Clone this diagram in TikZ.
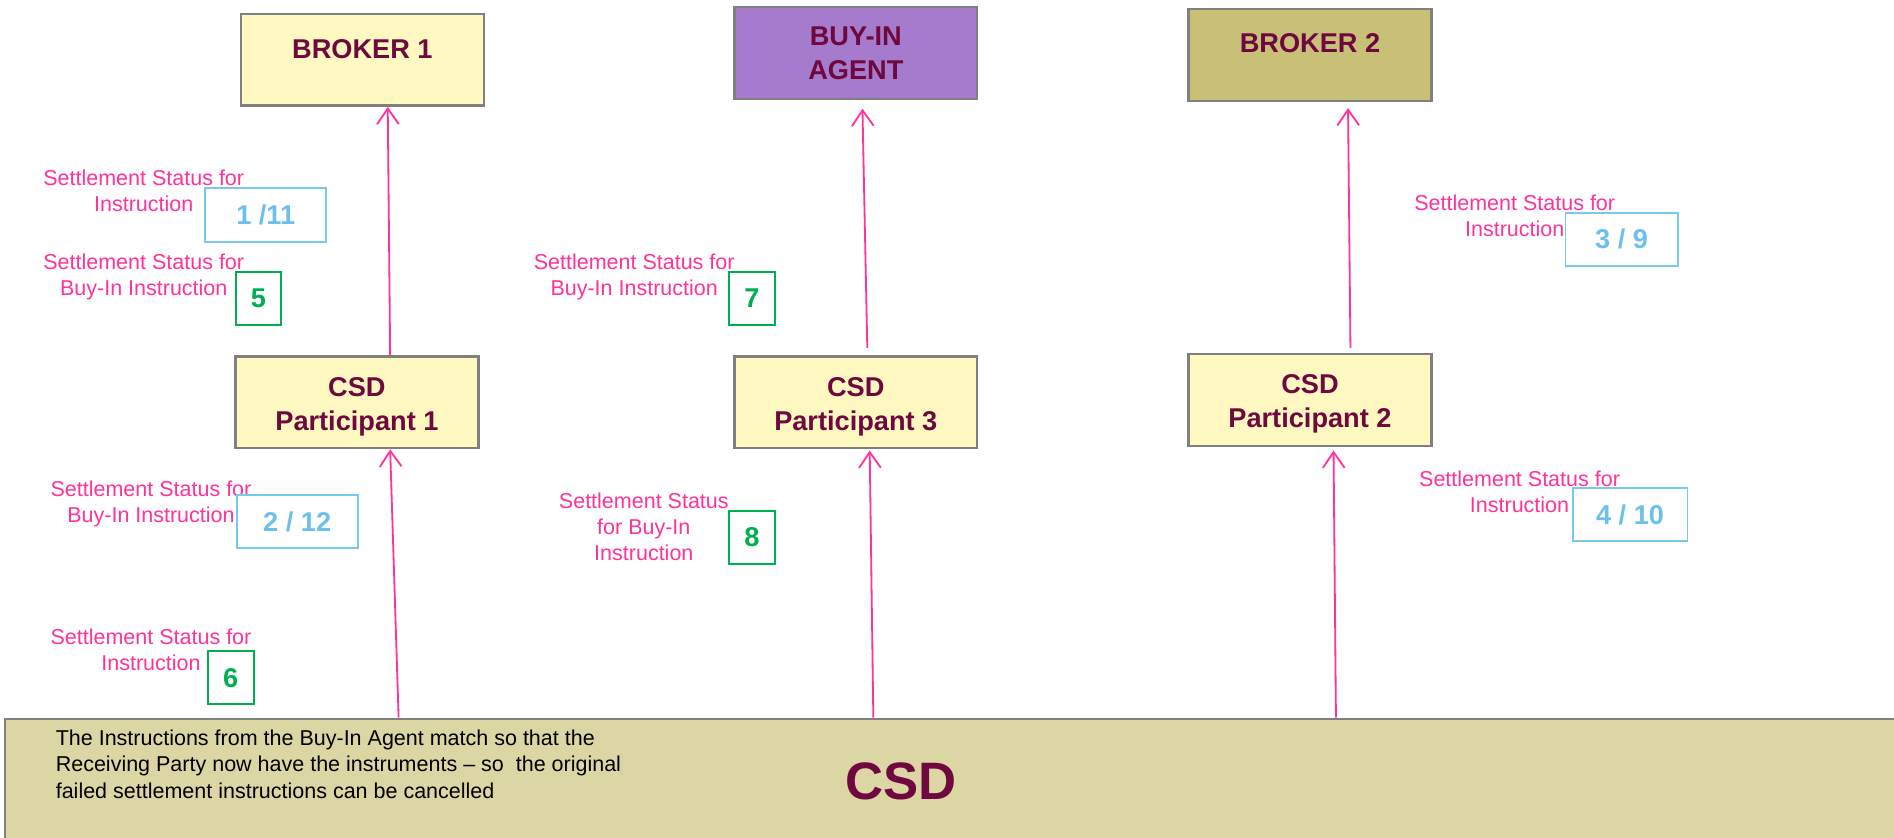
\documentclass[tikz,border=0pt]{standalone}
\usepackage{fontspec}
\setmainfont{Liberation Sans}
\usetikzlibrary{arrows.meta}
\definecolor{maroon}{RGB}{110,8,62}
\definecolor{pinkc}{RGB}{255,51,153}
\definecolor{lyellow}{RGB}{255,248,192}
\definecolor{purp}{RGB}{166,123,205}
\definecolor{olive}{RGB}{200,192,118}
\definecolor{csdfill}{RGB}{220,214,164}
\definecolor{bordergray}{RGB}{128,128,128}
\definecolor{lblue}{RGB}{120,200,240}
\definecolor{numblue}{RGB}{110,192,236}
\definecolor{greenc}{RGB}{0,176,80}
\tikzset{
  partybox/.style={draw=bordergray, line width=2pt, minimum width=201pt, minimum height=76pt,
    inner sep=0pt, align=center, text=maroon, font=\fontsize{22.5}{28}\selectfont\bfseries},
  titletext/.style={text=maroon, align=center, font=\fontsize{22.5}{28}\selectfont\bfseries, inner sep=0pt},
  statuslbl/.style={text=pinkc, align=center, inner sep=0pt, font=\fontsize{17.8}{21.5}\selectfont},
  bluebox/.style={draw=lblue, line width=1.6pt, minimum height=44pt, inner sep=0pt,
    text=numblue, font=\fontsize{22.5}{27}\selectfont\bfseries},
  greenbox/.style={draw=greenc, line width=1.6pt, minimum width=38pt, minimum height=44pt, inner sep=0pt,
    text=greenc, font=\fontsize{22.5}{27}\selectfont\bfseries},
  flow/.style={draw=pinkc, line width=1.5pt, -{Straight Barb[length=13pt,width=18pt,line width=1.5pt]}},
}
\begin{document}
\begin{tikzpicture}[x=1pt,y=-1pt]
\path[use as bounding box, clip] (0,0) rectangle (1568,693);
\fill[white] (0,0) rectangle (1568,693);

% top row
\node[partybox, fill=lyellow, label={[titletext,yshift=8.5pt]center:BROKER 1}] (b1) at (300,49.5) {};
\node[partybox, fill=purp] (agent) at (708.5,44) {BUY-IN\\AGENT};
\node[partybox, fill=olive, label={[titletext,yshift=9.5pt]center:BROKER 2}] (b2) at (1084.5,45.5) {};

% participants
\node[partybox, fill=lyellow, label={[titletext,yshift=-4pt]center:CSD\\Participant 1}] (p1) at (295.5,333) {};
\node[partybox, fill=lyellow, label={[titletext,yshift=-4pt]center:CSD\\Participant 3}] (p3) at (708.5,333) {};
\node[partybox, fill=lyellow, label={[titletext,yshift=-3pt]center:CSD\\Participant 2}] (p2) at (1084.5,331) {};

% CSD bar
\node[draw=bordergray, line width=2pt, fill=csdfill, anchor=north west, minimum width=1590pt,
  minimum height=120pt, inner sep=0pt] (csd) at (3,594) {};
\node[text=maroon, font=\fontsize{43.6}{50}\selectfont\bfseries, inner sep=0pt] (csdlabel) at (746,647) {CSD};
\node[anchor=north west, align=left, inner sep=0pt, font=\fontsize{17.8}{21.8}\selectfont] (note) at (46,604)
  {The Instructions from the Buy-In Agent match so that the\\Receiving Party now have the instruments -- so \ the original\\failed settlement instructions can be cancelled};

% arrows
\draw[flow] ([xshift=27.5pt]p1.north) -- ([xshift=21pt]b1.south);
\draw[flow] ([xshift=327pt]csd.north west) -- ([xshift=27.5pt]p1.south);
\draw[flow] ([xshift=9.5pt,yshift=6pt]p3.north) -- ([xshift=5.5pt,yshift=-7pt]agent.south);
\draw[flow] ([xshift=720pt]csd.north west) -- ([xshift=11.5pt,yshift=-1pt]p3.south);
\draw[flow] ([xshift=33.5pt,yshift=4pt]p2.north) -- ([xshift=31.5pt,yshift=-5pt]b2.south);
\draw[flow] ([xshift=1103pt]csd.north west) -- ([xshift=19.5pt,yshift=-3pt]p2.south);

% status labels
\node[statuslbl] (l1) at (119,158) {Settlement Status for\\Instruction};
\node[statuslbl] (l2) at (119,229) {Settlement Status for\\Buy-In Instruction};
\node[statuslbl] (l3) at (125,417) {Settlement Status for\\Buy-In Instruction};
\node[statuslbl] (l4) at (125,538) {Settlement Status for\\Instruction};
\node[statuslbl] (l5) at (525,229) {Settlement Status for\\Buy-In Instruction};
\node[statuslbl] (l6) at (533,436) {Settlement Status\\for Buy-In\\Instruction};
\node[statuslbl] (l7) at (1254,179) {Settlement Status for\\Instruction};
\node[statuslbl] (l8) at (1258,407) {Settlement Status for\\Instruction};

% step numbers
\node[bluebox, minimum width=100pt] (n1) at (220,178) {1 /11};
\node[greenbox] (n5) at (214,247) {5};
\node[bluebox, minimum width=100pt] (n2) at (246,432) {2 / 12};
\node[greenbox] (n6) at (191,561) {6};
\node[greenbox] (n7) at (622.5,247) {7};
\node[greenbox] (n8) at (622.5,445) {8};
\node[bluebox, minimum width=93pt] (n3) at (1342.5,198) {3 / 9};
\node[bluebox, minimum width=95pt] (n4) at (1349.5,426) {4 / 10};
\end{tikzpicture}
\end{document}
